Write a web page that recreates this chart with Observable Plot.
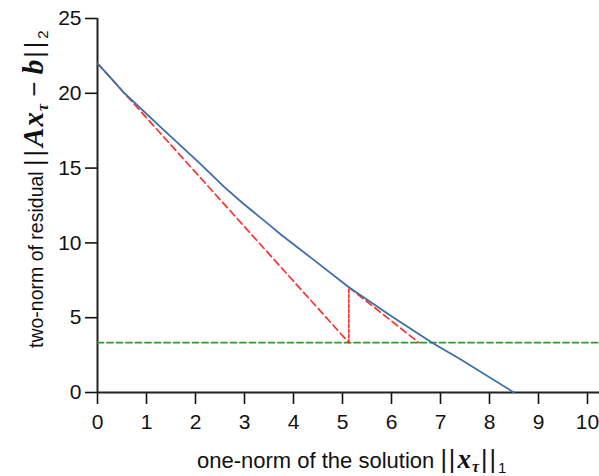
<!DOCTYPE html>
<html>
<head>
<meta charset="utf-8">
<script src="https://cdn.jsdelivr.net/npm/d3@7"></script>
<script src="https://cdn.jsdelivr.net/npm/@observablehq/plot@0.6"></script>
<style>
  html, body { margin: 0; padding: 0; background: #fff; }
</style>
</head>
<body>
<div id="chart"></div>
<script>
// Pareto curve (blue)
const paretoX = [0, 0.34, 0.53, 1.3, 2.11, 2.59, 2.96, 3.25, 3.5, 3.76, 4.4, 5.13, 6.0, 6.83, 7.44, 8.5];
const paretoY = [22.0, 20.78, 20.07, 17.7, 15.25, 13.73, 12.67, 11.89, 11.22, 10.51, 8.9, 7.03, 5.1, 3.33, 2.15, 0];
// First Newton tangent (red dashed)
const tan1X = [0, 5.13];
const tan1Y = [22.0, 3.33];
// Step back up to the curve (red dotted)
const stepX = [5.13, 5.13];
const stepY = [3.33, 7.03];
// Second tangent (red dashed)
const tan2X = [5.13, 6.56];
const tan2Y = [7.03, 3.33];
// Target residual sigma (green dashed)
const sigma = 3.33;
const sigmaX = [0, 10.25];
// Ticks
const xTicks = [0, 1, 2, 3, 4, 5, 6, 7, 8, 9, 10];
const yTicks = [0, 5, 10, 15, 20, 25];

const toPts = (xs, ys) => xs.map((x, i) => ({x, y: ys[i]}));

const plot = Plot.plot({
  width: 599,
  height: 476,
  marginLeft: 97,
  marginRight: 12,
  marginTop: 18,
  marginBottom: 84,
  style: {fontFamily: "'Liberation Sans', Arial, sans-serif", color: "#111", background: "#fff"},
  x: {domain: [0, 10]},
  y: {domain: [0, 25]},
  marks: [
    Plot.axisX(xTicks, {tickSize: 12, tickPadding: 10, label: null, tickFormat: d => String(d), strokeWidth: 1.6}),
    Plot.axisY(yTicks, {tickSize: 12, tickPadding: 4, label: null, tickFormat: d => String(d), strokeWidth: 1.6}),
    Plot.ruleX([0], {y1: 0, y2: 25, stroke: "#222", strokeWidth: 2}),
    Plot.ruleY([0], {x1: 0, x2: 10.25, stroke: "#222", strokeWidth: 2}),
    Plot.line(toPts(sigmaX, [sigma, sigma]), {x: "x", y: "y", stroke: "#2e9a2e", strokeWidth: 1.8, strokeDasharray: "6,3.5"}),
    Plot.line(toPts(tan1X, tan1Y), {x: "x", y: "y", stroke: "#ff3030", strokeWidth: 1.7, strokeDasharray: "7,4"}),
    Plot.line(toPts(stepX, stepY), {x: "x", y: "y", stroke: "#ff3030", strokeWidth: 1.7, strokeDasharray: "3,2"}),
    Plot.line(toPts(tan2X, tan2Y), {x: "x", y: "y", stroke: "#ff3030", strokeWidth: 1.7, strokeDasharray: "7,4"}),
    Plot.line(toPts(paretoX, paretoY), {x: "x", y: "y", stroke: "#3d6eaa", strokeWidth: 1.8})
  ]
});

document.getElementById("chart").appendChild(plot);

const svg = d3.select(plot);
// tick labels size
svg.selectAll("text").style("font-size", "21px").style("fill", "#111");

const mathFont = "'Liberation Serif', 'DejaVu Serif', serif";
const bi = sel => sel.attr("font-family", mathFont).attr("font-weight", "bold").attr("font-style", "italic");

// x-axis title
const xt = svg.append("text")
  .attr("x", 197).attr("y", 468)
  .attr("text-anchor", "start")
  .attr("font-size", 22)
  .attr("fill", "#111")
  .attr("font-family", "'Liberation Sans', Arial, sans-serif");
xt.append("tspan").text("one-norm of the solution ");
xt.append("tspan").text("||").attr("font-size", 25).attr("letter-spacing", 2);
bi(xt.append("tspan").text("x")).attr("font-size", 27);
bi(xt.append("tspan").text("τ")).attr("font-size", 16).attr("dy", 4).attr("dx", 1);
xt.append("tspan").text("||").attr("font-size", 25).attr("dy", -4).attr("dx", 2).attr("letter-spacing", 2);
xt.append("tspan").text("1").attr("font-size", 15).attr("dy", 5);

// y-axis title
const yt = svg.append("text")
  .attr("transform", "translate(43,348) rotate(-90)")
  .attr("text-anchor", "start")
  .attr("font-size", 19.5)
  .attr("fill", "#111")
  .attr("font-family", "'Liberation Sans', Arial, sans-serif");
yt.append("tspan").text("two-norm of residual ");
yt.append("tspan").text("||").attr("font-size", 25).attr("letter-spacing", 3);
bi(yt.append("tspan").text("Ax")).attr("font-size", 29).attr("letter-spacing", 1);
bi(yt.append("tspan").text("τ")).attr("font-size", 16).attr("dy", 5);
yt.append("tspan").text(" − ").attr("font-size", 26).attr("dy", -5);
bi(yt.append("tspan").text("b")).attr("font-size", 29);
yt.append("tspan").text("||").attr("font-size", 25).attr("dx", 2).attr("letter-spacing", 3);
yt.append("tspan").text("2").attr("font-size", 15).attr("dy", 5);
</script>
</body>
</html>
